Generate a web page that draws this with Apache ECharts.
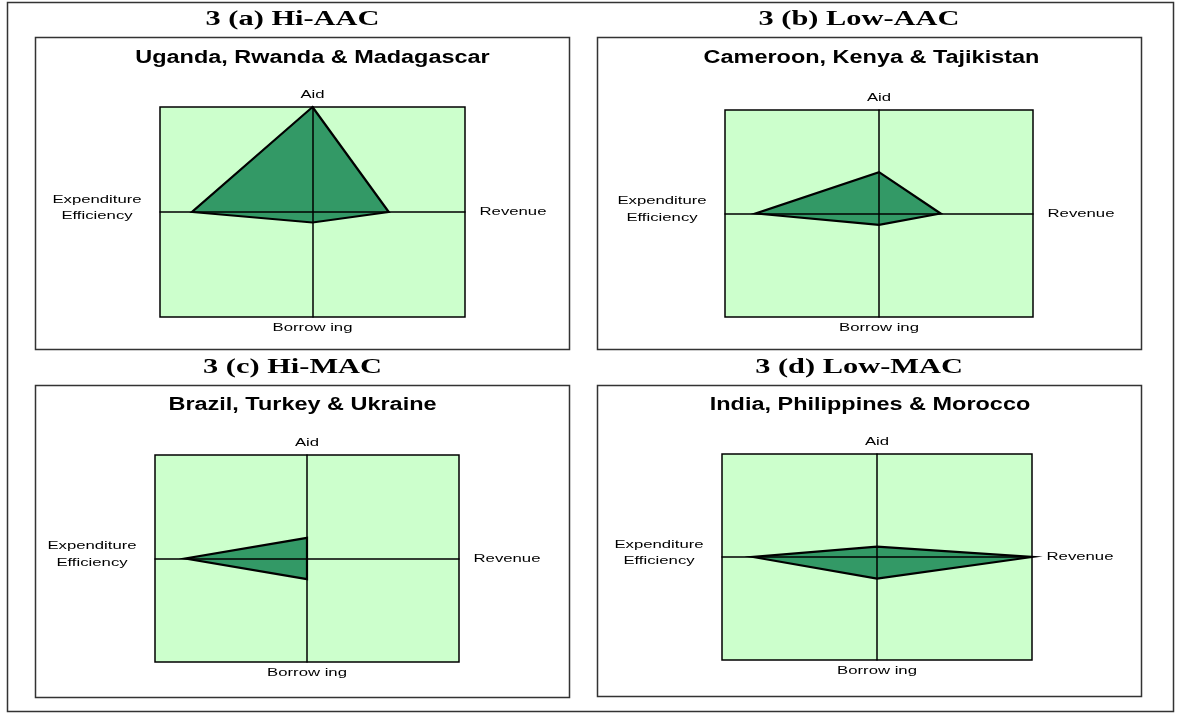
<!DOCTYPE html>
<html>
<head>
<meta charset="utf-8">
<script src="https://cdn.jsdelivr.net/npm/echarts@6/dist/echarts.min.js"></script>
<style>
  html, body { margin: 0; padding: 0; background: #fff; }
  #chart { width: 1188px; height: 713px; }
</style>
</head>
<body>
<div id="chart"></div>
<script>
// Fiscal response profiles: four country groups, each plotted on four axes
const panelTitles = ['3 (a) Hi-AAC', '3 (b) Low-AAC', '3 (c) Hi-MAC', '3 (d) Low-MAC'];
const groupNames = [
  'Uganda, Rwanda & Madagascar',
  'Cameroon, Kenya & Tajikistan',
  'Brazil, Turkey & Ukraine',
  'India, Philippines & Morocco'
];
const axisNames = ['Aid', 'Revenue', 'Borrow ing', 'Expenditure\nEfficiency'];

// Values per group along each axis (0 = centre, 1 = edge of the plot square)
const aidValues         = [1.00, 0.40, 0.20, 0.10];
const revenueValues     = [0.50, 0.40, 0.00, 1.00];
const borrowingValues   = [0.10, 0.11, 0.20, 0.21];
const expenditureValues = [0.79, 0.80, 0.80, 0.80];

// Page layout for each panel: framed box, plot area, heading positions
const layout = [
  { box: [35, 37, 534, 312], plot: [160, 107, 305, 210], title: [292.5, 20], sub: [312.5, 58] },
  { box: [597, 37, 544, 312], plot: [725, 110, 308, 207], title: [859, 20], sub: [871.5, 58] },
  { box: [35, 385, 534, 312], plot: [155, 455, 304, 207], title: [292.5, 368], sub: [302.5, 405] },
  { box: [597, 385, 544, 311], plot: [722, 454, 310, 206], title: [859, 368], sub: [870, 405] }
];

const FRAME = '#333';
const titleFont = 'bold 20px "Liberation Serif", "Times New Roman", serif';
const subFont = 'bold 17.5px "Liberation Sans", Arial, sans-serif';
const labelFont = '11px "Liberation Sans", Arial, sans-serif';

function text(str, x, y, font, sx, extra) {
  return {
    type: 'text', x: x, y: y, scaleX: sx, z: 10,
    style: Object.assign({
      text: str, font: font, fill: '#000',
      align: 'center', verticalAlign: 'middle',
      textAlign: 'center', textVerticalAlign: 'middle'
    }, extra || {})
  };
}

const grids = [], xAxes = [], yAxes = [], series = [];
const graphics = [{
  type: 'rect', z: 10, silent: true,
  shape: { x: 7.5, y: 2.5, width: 1166, height: 709 },
  style: { fill: 'none', stroke: FRAME, lineWidth: 1.5 }
}];

layout.forEach((L, i) => {
  const [px, py, pw, ph] = L.plot;
  grids.push({
    left: px, top: py, width: pw, height: ph,
    show: true, backgroundColor: '#CCFFCC', borderColor: '#000', borderWidth: 1.5
  });
  const axisCommon = {
    gridIndex: i, type: 'value', min: -1, max: 1, interval: 1, z: 5,
    axisLine: { show: true, onZero: true, lineStyle: { color: '#000', width: 1.5 } },
    axisTick: { show: false }, axisLabel: { show: false }, splitLine: { show: false }
  };
  xAxes.push(Object.assign({}, axisCommon));
  yAxes.push(Object.assign({}, axisCommon));

  series.push({
    type: 'custom', xAxisIndex: i, yAxisIndex: i, clip: false, z: 3,
    data: [[aidValues[i], revenueValues[i], borrowingValues[i], expenditureValues[i]]],
    renderItem: function (params, api) {
      const top = api.coord([0, api.value(0)]);
      const right = api.coord([api.value(1), 0]);
      const bottom = api.coord([0, -api.value(2)]);
      const left = api.coord([-api.value(3), 0]);
      return {
        type: 'polygon',
        shape: { points: [top, right, bottom, left] },
        style: { fill: '#339966', stroke: '#000', lineWidth: 2.2, lineJoin: 'miter' }
      };
    }
  });

  const [bx, by, bw, bh] = L.box;
  graphics.push({
    type: 'rect', z: 10, silent: true,
    shape: { x: bx + 0.5, y: by + 0.5, width: bw, height: bh },
    style: { fill: 'none', stroke: FRAME, lineWidth: 1.5 }
  });
  graphics.push(text(panelTitles[i], L.title[0], L.title[1], titleFont, 1.52));
  graphics.push(text(groupNames[i], L.sub[0], L.sub[1], subFont, 1.34));

  const cx = px + pw / 2, cy = py + ph / 2;
  graphics.push(text(axisNames[0], cx, py - 12, labelFont, 1.52));
  graphics.push(text(axisNames[1], px + pw + 48, cy, labelFont, 1.52));
  graphics.push(text(axisNames[2], cx, py + ph + 11, labelFont, 1.52));
  graphics.push(text(axisNames[3], px - 63, cy - 4, labelFont, 1.52, { lineHeight: 16.5 }));
});

const chart = echarts.init(document.getElementById('chart'), null, { renderer: 'canvas' });
chart.setOption({
  animation: false,
  backgroundColor: '#fff',
  grid: grids,
  xAxis: xAxes,
  yAxis: yAxes,
  series: series,
  graphic: graphics
});
</script>
</body>
</html>
